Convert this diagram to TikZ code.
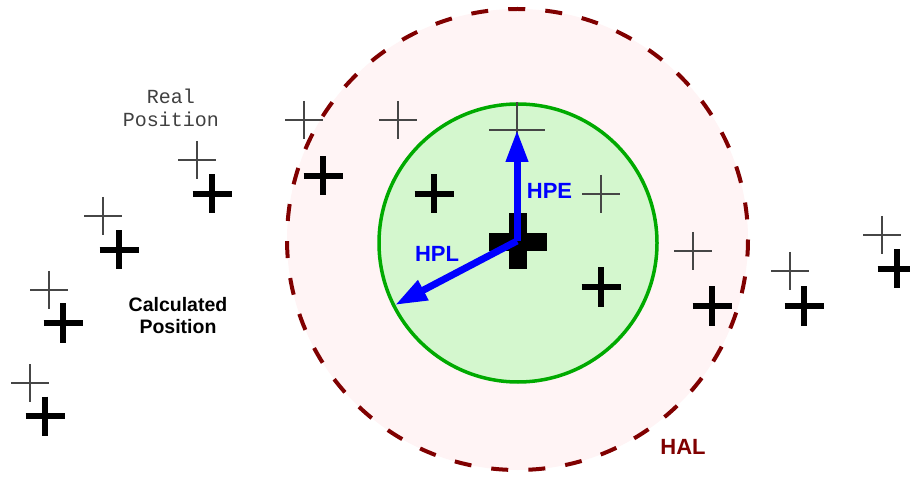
\documentclass[tikz,border=0pt]{standalone}
\usepackage{fontspec}
\setmainfont{Liberation Sans}
\newfontfamily\monofont{Liberation Mono}
\usetikzlibrary{arrows.meta}
\definecolor{halred}{RGB}{128,0,0}
\definecolor{halfill}{RGB}{255,244,245}
\definecolor{hplfill}{RGB}{212,247,206}
\definecolor{hplline}{RGB}{0,170,0}
\definecolor{realgray}{RGB}{70,70,70}
\definecolor{arrowblue}{RGB}{0,0,255}
\tikzset{
  realcross/.pic={\draw[realgray,line width=1.3pt] (-19,0)--(19,0) (0,-19)--(0,19);},
  bigrealcross/.pic={\draw[realgray,line width=1.3pt] (-28,0)--(28,0) (0,-28)--(0,28);},
  calccross/.pic={\draw[black,line width=6pt] (-19.5,0)--(19.5,0) (0,-19.5)--(0,19.5);},
  halcircle/.style={draw=halred,fill=halfill,line width=4pt,dash pattern=on 17pt off 20.14pt},
  hplcircle/.style={draw=hplline,fill=hplfill,line width=3.5pt},
  vec/.style={draw=arrowblue,line width=7pt,-{Triangle[length=32pt,width=21pt]}},
  bluelabel/.style={text=arrowblue,font=\bfseries\fontsize{22}{26}\selectfont,inner sep=0pt,anchor=base},
  hallabel/.style={text=halred,font=\bfseries\fontsize{22}{26}\selectfont,inner sep=0pt,anchor=base},
  calclabel/.style={text=black,font=\bfseries\fontsize{19.5}{22}\selectfont,inner sep=0pt,anchor=base},
  reallabel/.style={text=black!75,font=\monofont\fontsize{20}{23}\selectfont,inner sep=0pt,anchor=base}
}
\begin{document}
\begin{tikzpicture}[x=1pt,y=-1pt]
\useasboundingbox (0,0) rectangle (910,478);
\clip (0,0) rectangle (910,478);
\fill[white] (0,0) rectangle (910,478);
% circles
\path[halcircle] (517.5,239.5) circle[radius=230.5];
\path[hplcircle] (518,243) circle[radius=139];
% real positions (thin crosses)
\foreach \p in {(197,160),(103,216),(49,290),(30,383),(304,120),(398,120),(601,194),(693,251),(790,271),(882,235)}
  \pic at \p {realcross};
\pic at (517,130) {bigrealcross};
% calculated positions (bold crosses)
\foreach \p in {(212,194),(119,250),(63,323),(45,416),(323,176),(434,194),(601,287),(712,306),(804,306),(897,269)}
  \pic at \p {calccross};
% central position
\fill[black] (509,213) rectangle (527,269);
\fill[black] (489,233) rectangle (547,251);
% vectors
\coordinate (o) at (517,241);
\coordinate (hpetip) at (517,130);
\coordinate (hpltip) at (395,305);
\draw[vec] (o) -- (hpetip);
\draw[vec] (o) -- (hpltip);
% labels
\node[bluelabel] (hpe) at (549.5,199) {HPE};
\node[bluelabel] (hpl) at (437,262) {HPL};
\node[hallabel] (hal) at (683,454) {HAL};
\node[calclabel] (calc1) at (178,311.7) {Calculated};
\node[calclabel] (calc2) at (178,333.3) {Position};
\node[reallabel] (real1) at (171,104) {Real};
\node[reallabel] (real2) at (171,126.7) {Position};
\end{tikzpicture}
\end{document}
